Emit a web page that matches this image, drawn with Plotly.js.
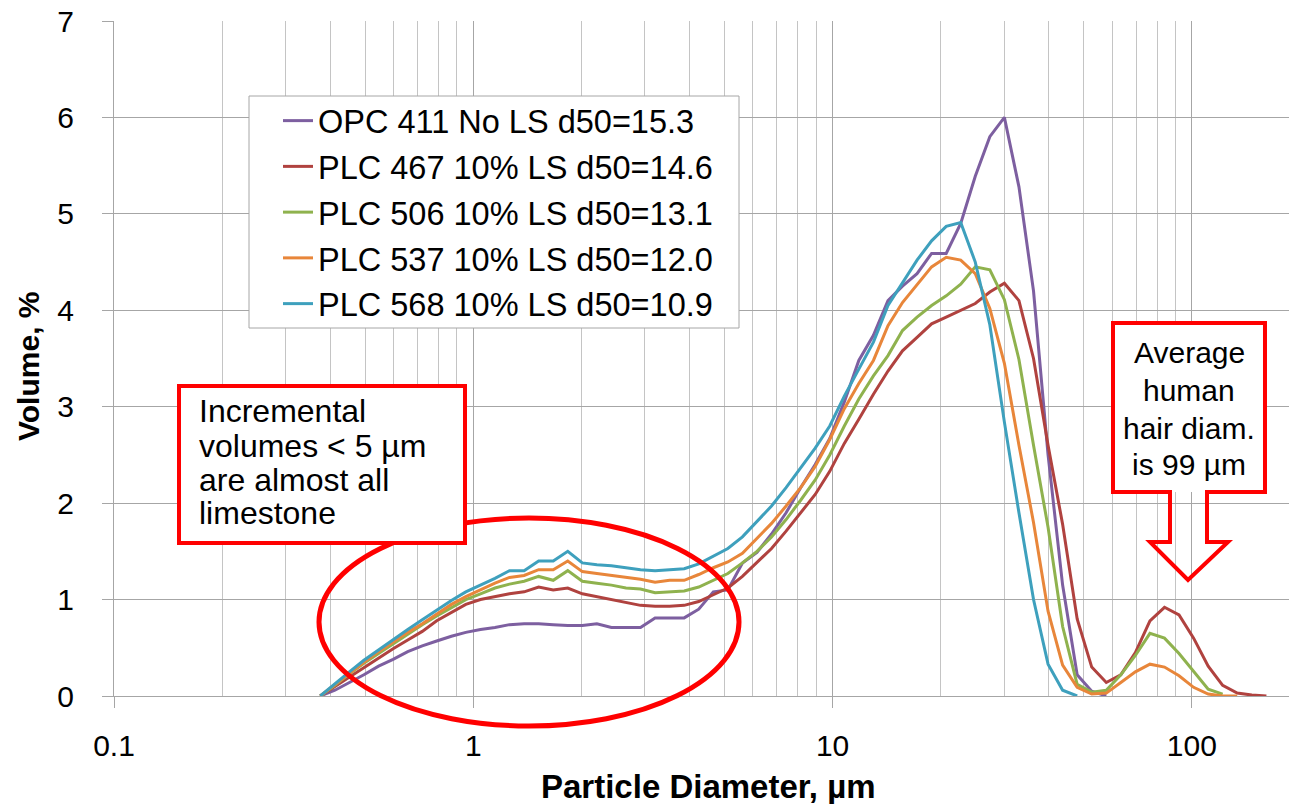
<!DOCTYPE html>
<html>
<head>
<meta charset="utf-8">
<script src="https://cdn.plot.ly/plotly-3.0.1.min.js"></script>
<style>html,body{margin:0;padding:0;background:#fff;}#chart{width:1289px;height:804px;}</style>
</head>
<body>
<div id="chart"></div>
<script>
// Particle size bins (µm)
const sizes = [0.375,0.412,0.452,0.496,0.545,0.598,0.657,0.721,0.791,0.869,0.953,1.047,1.149,1.261,1.385,1.520,1.669,1.832,2.011,2.208,2.423,2.660,2.920,3.206,3.519,3.863,4.241,4.656,5.111,5.611,6.159,6.761,7.422,8.148,8.944,9.819,10.78,11.83,12.99,14.26,15.65,17.18,18.86,20.71,22.73,24.95,27.39,30.07,33.01,36.24,39.78,43.67,47.94,52.62,57.77,63.41,69.61,76.42,83.89,92.09,101.1,111.0,121.8,133.7,146.8,161.2];

const seriesNames = ["OPC 411 No LS d50=15.3","PLC 467 10% LS d50=14.6","PLC 506 10% LS d50=13.1","PLC 537 10% LS d50=12.0","PLC 568 10% LS d50=10.9"];

const opc411 = [0,0.06,0.14,0.22,0.31,0.38,0.46,0.52,0.57,0.62,
 0.66,0.69,0.71,0.74,0.75,0.75,0.74,0.73,0.73,0.75,
 0.71,0.71,0.71,0.81,0.81,0.81,0.90,1.08,1.10,1.38,
 1.49,1.68,1.90,2.16,2.40,2.67,3.05,3.48,3.74,4.10,
 4.25,4.38,4.59,4.59,4.90,5.39,5.80,6.00,5.28,4.20,
 2.50,1.15,0.22,0.05,0.00];

const plc467 = [0,0.10,0.20,0.30,0.40,0.49,0.58,0.67,0.78,0.87,
 0.95,1.00,1.03,1.06,1.08,1.13,1.10,1.12,1.06,1.03,
 1.00,0.97,0.94,0.93,0.93,0.94,0.98,1.05,1.12,1.24,
 1.38,1.53,1.71,1.90,2.09,2.33,2.62,2.87,3.13,3.37,
 3.58,3.72,3.86,3.93,4.00,4.07,4.19,4.28,4.10,3.50,
 2.60,1.78,0.80,0.30,0.14,0.22,0.45,0.78,0.92,0.84,
 0.60,0.31,0.11,0.03,0.01,0.00];

const plc506 = [0,0.11,0.23,0.34,0.44,0.54,0.64,0.74,0.83,0.92,
 1.00,1.06,1.12,1.16,1.19,1.24,1.20,1.30,1.19,1.17,
 1.15,1.12,1.11,1.07,1.08,1.09,1.13,1.20,1.27,1.38,
 1.50,1.65,1.83,2.03,2.24,2.50,2.80,3.08,3.32,3.53,
 3.79,3.93,4.05,4.15,4.27,4.45,4.42,4.11,3.49,2.60,
 1.75,0.72,0.12,0.04,0.06,0.22,0.42,0.65,0.60,0.44,
 0.25,0.07,0.02];

const plc537 = [0,0.12,0.24,0.35,0.46,0.56,0.66,0.75,0.85,0.95,
 1.03,1.10,1.17,1.23,1.25,1.31,1.31,1.40,1.29,1.27,
 1.25,1.23,1.21,1.18,1.20,1.20,1.26,1.33,1.39,1.48,
 1.64,1.79,1.97,2.16,2.38,2.66,2.98,3.24,3.48,3.84,
 4.08,4.27,4.45,4.55,4.52,4.38,4.02,3.45,2.60,1.80,
 0.88,0.32,0.09,0.02,0.03,0.14,0.25,0.33,0.30,0.21,
 0.09,0.02,0.00,0.00];

const plc568 = [0,0.13,0.25,0.37,0.48,0.58,0.69,0.79,0.89,0.99,
 1.08,1.15,1.22,1.30,1.30,1.40,1.40,1.50,1.38,1.36,
 1.35,1.33,1.31,1.30,1.31,1.32,1.37,1.45,1.53,1.65,
 1.81,1.97,2.16,2.36,2.57,2.80,3.11,3.39,3.67,4.05,
 4.29,4.52,4.72,4.87,4.91,4.50,3.85,2.84,1.90,1.00,
 0.33,0.06,0.00];

const noteLeft = ["Incremental","volumes < 5 µm","are almost all","limestone"];
const noteRight = ["Average","human","hair diam.","is 99 µm"];

const colors = ['#7d5fa0','#b0423f','#8fb24e','#e8863a','#3ea0bd'];
const allSeries = [opc411, plc467, plc506, plc537, plc568];

const FONT = 'Liberation Sans, Arial, sans-serif';
const W = 1289, H = 804, L = 114, T = 21, PW = 1175, PH = 675;
function px(x){ return (x - L) / PW; }
function py(y){ return (T + PH - y) / PH; }

const traces = allSeries.map((vals, i) => ({
  type: 'scatter', mode: 'lines',
  x: sizes.slice(0, vals.length), y: vals,
  name: seriesNames[i],
  legendgroup: 'g' + i,
  line: {color: colors[i], width: 3},
  hoverinfo: 'skip'
}));

const calloutPts = [[1113,323],[1265,323],[1265,492],[1207,492],[1207,542],[1228,542],[1188,580],[1150,542],[1170,542],[1170,492],[1113,492]];
const calloutPath = 'M' + calloutPts.map(p => px(p[0]).toFixed(5) + ',' + py(p[1]).toFixed(5)).join(' L') + ' Z';

const shapes = [
  {type:'rect', xref:'paper', yref:'paper', x0:px(249), x1:px(739), y0:py(328), y1:py(96), fillcolor:'#ffffff', line:{color:'#a6a6a6', width:1}, layer:'above'},
  {type:'circle', xref:'paper', yref:'paper', x0:px(319), x1:px(739), y0:py(726), y1:py(518), line:{color:'#ff0000', width:5}, layer:'above'},
  {type:'rect', xref:'paper', yref:'paper', x0:px(179), x1:px(465), y0:py(543), y1:py(386), fillcolor:'#ffffff', line:{color:'#ff0000', width:4}, layer:'above'},
  {type:'rect', xref:'paper', yref:'paper', x0:px(1113), x1:px(1265), y0:py(492), y1:py(323), fillcolor:'#ffffff', line:{width:0}, layer:'above'},
  {type:'path', xref:'paper', yref:'paper', path: calloutPath, line:{color:'#ff0000', width:4}, layer:'above'}
];

const leftY = [411, 446, 480, 513];
const rightY = [352, 390, 428, 464];
const annotations = [];
noteLeft.forEach((t, i) => annotations.push({xref:'paper', yref:'paper', x:px(197), y:py(leftY[i]), xanchor:'left', yanchor:'middle', text:t, showarrow:false, font:{family:FONT, size:32, color:'#000'}}));
noteRight.forEach((t, i) => annotations.push({xref:'paper', yref:'paper', x:px(1189), y:py(rightY[i]), xanchor:'center', yanchor:'middle', text:t, showarrow:false, font:{family:FONT, size:30, color:'#000'}}));
annotations.push({xref:'paper', yref:'paper', x:px(708), y:py(787), xanchor:'center', yanchor:'middle', text:'<b>Particle Diameter, µm</b>', showarrow:false, font:{family:FONT, size:33, color:'#000'}});
annotations.push({xref:'paper', yref:'paper', x:px(28), y:py(367), xanchor:'center', yanchor:'middle', textangle:-90, text:'<b>Volume, %</b>', showarrow:false, font:{family:FONT, size:30, color:'#000'}});

const layout = {
  width: W, height: H,
  margin: {l: L, r: 0, t: T, b: H - T - PH, pad: 0},
  paper_bgcolor: '#fff', plot_bgcolor: '#fff',
  font: {family: FONT, color: '#000'},
  showlegend: true,
  legend: {
    x: px(278), y: py(93), xanchor: 'left', yanchor: 'top',
    bgcolor: 'rgba(0,0,0,0)', borderwidth: 0,
    font: {family: FONT, size: 32.5, color: '#000'},
    tracegroupgap: 0.5
  },
  xaxis: {
    type: 'log', range: [-1, -1 + PW / 359.3],
    tick0: 0, dtick: 1,
    showgrid: true, gridcolor: '#a6a6a6', gridwidth: 1,
    minor: {dtick: 'D1', showgrid: true, gridcolor: '#c4c4c4', gridwidth: 1, ticks: ''},
    ticks: 'outside', ticklen: 11, tickcolor: '#a6a6a6', tickwidth: 1,
    showline: true, linecolor: '#a6a6a6', linewidth: 1,
    zeroline: false,
    tickfont: {family: FONT, size: 30, color: '#000'},
    ticklabelstandoff: 12,
    fixedrange: true
  },
  yaxis: {
    range: [0, 7], dtick: 1, tick0: 0,
    showgrid: true, gridcolor: '#a6a6a6', gridwidth: 1,
    ticks: 'outside', ticklen: 11, tickcolor: '#a6a6a6', tickwidth: 1,
    showline: true, linecolor: '#a6a6a6', linewidth: 1,
    zeroline: false,
    tickfont: {family: FONT, size: 30, color: '#000'},
    ticklabelstandoff: 22,
    fixedrange: true
  },
  shapes: shapes,
  annotations: annotations
};

Plotly.newPlot('chart', traces, layout, {staticPlot: true, displayModeBar: false});
</script>
</body>
</html>
